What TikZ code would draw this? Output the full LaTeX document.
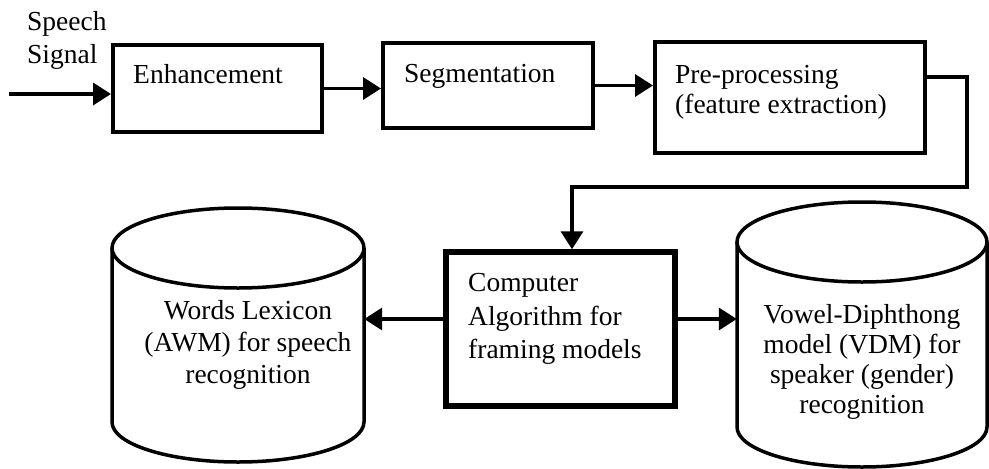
\documentclass[tikz,border=0pt]{standalone}
\usepackage{fontspec}
\setmainfont{Liberation Serif}
\usetikzlibrary{arrows.meta}
\begin{document}
\begin{tikzpicture}[x=1pt,y=-1pt,
  blockbox/.style={draw, line width=4pt, inner sep=0pt, rectangle},
  lbl/.style={anchor=base west, inner sep=0pt, font=\fontsize{27.5}{33}\selectfont},
  clbl/.style={anchor=base, inner sep=0pt, font=\fontsize{27.5}{33}\selectfont},
  conn/.style={line width=3.5pt, -{Triangle[length=18pt,width=22pt]}},
  plainconn/.style={line width=3.5pt},
  cyl/.style={line width=3.5pt},
  ghost/.style={inner sep=0pt, rectangle}]
\useasboundingbox (0,0) rectangle (989,469);

% boxes
\node[blockbox, minimum width=209pt, minimum height=87pt] (enh) at (217.5,88.5) {};
\node[blockbox, minimum width=210pt, minimum height=85pt] (seg) at (488,85.5) {};
\node[blockbox, minimum width=270pt, minimum height=111pt] (pre) at (790,97.5) {};
\node[blockbox, line width=5.5pt, minimum width=229pt, minimum height=154pt] (comp) at (560.5,329) {};

% cylinders
\draw[cyl] (238,248) ellipse [x radius=126pt, y radius=40pt];
\draw[cyl] (112,248) -- (112,422) arc[start angle=180, end angle=360, x radius=126pt, y radius=40pt] -- (364,248);
\node[ghost, minimum width=252pt, minimum height=214pt] (wl) at (238,355) {};

\draw[cyl] (862,242) ellipse [x radius=125pt, y radius=40pt];
\draw[cyl] (737,242) -- (737,427) arc[start angle=180, end angle=360, x radius=125pt, y radius=40pt] -- (987,242);
\node[ghost, minimum width=250pt, minimum height=225pt] (vd) at (862,355) {};

% texts
\node[lbl] (t1) at (27,30) {Speech};
\node[lbl] (t2) at (27,63) {Signal};
\node[lbl] (t3) at (133,83) {Enhancement};
\node[lbl] (t4) at (404,82) {Segmentation};
\node[lbl] (t5) at (675,83) {Pre-processing};
\node[lbl] (t6) at (675,113) {(feature extraction)};
\node[lbl] (t7) at (468,291) {Computer};
\node[lbl] (t8) at (468,325) {Algorithm for};
\node[lbl] (t9) at (468,358) {framing models};
\node[clbl] (w1) at (248,319) {Words Lexicon};
\node[clbl] (w2) at (248,351) {(AWM) for speech};
\node[clbl] (w3) at (248,383) {recognition};
\node[clbl] (v1) at (862,323) {Vowel-Diphthong};
\node[clbl] (v2) at (862,353) {model (VDM) for};
\node[clbl] (v3) at (862,383) {speaker (gender)};
\node[clbl] (v4) at (862,413) {recognition};

% connectors
\coordinate (in) at (9,94);
\coordinate (k1) at (967,77);
\coordinate (k2) at (967,187);
\coordinate (k3) at (572,187);
\coordinate (ay) at (0,319);
\draw[conn] (in) -- (in -| enh.west);
\draw[conn] (enh.east) -- (enh.east -| seg.west);
\draw[conn] (seg.east) -- (seg.east -| pre.west);
\draw[conn] (pre.east |- k1) -- (k1) -- (k2) -- (k3) -- (k3 |- comp.north);
\draw[conn] (comp.west |- ay) -- (wl.east |- ay);
\draw[conn] (comp.east |- ay) -- (vd.west |- ay);
\end{tikzpicture}
\end{document}
